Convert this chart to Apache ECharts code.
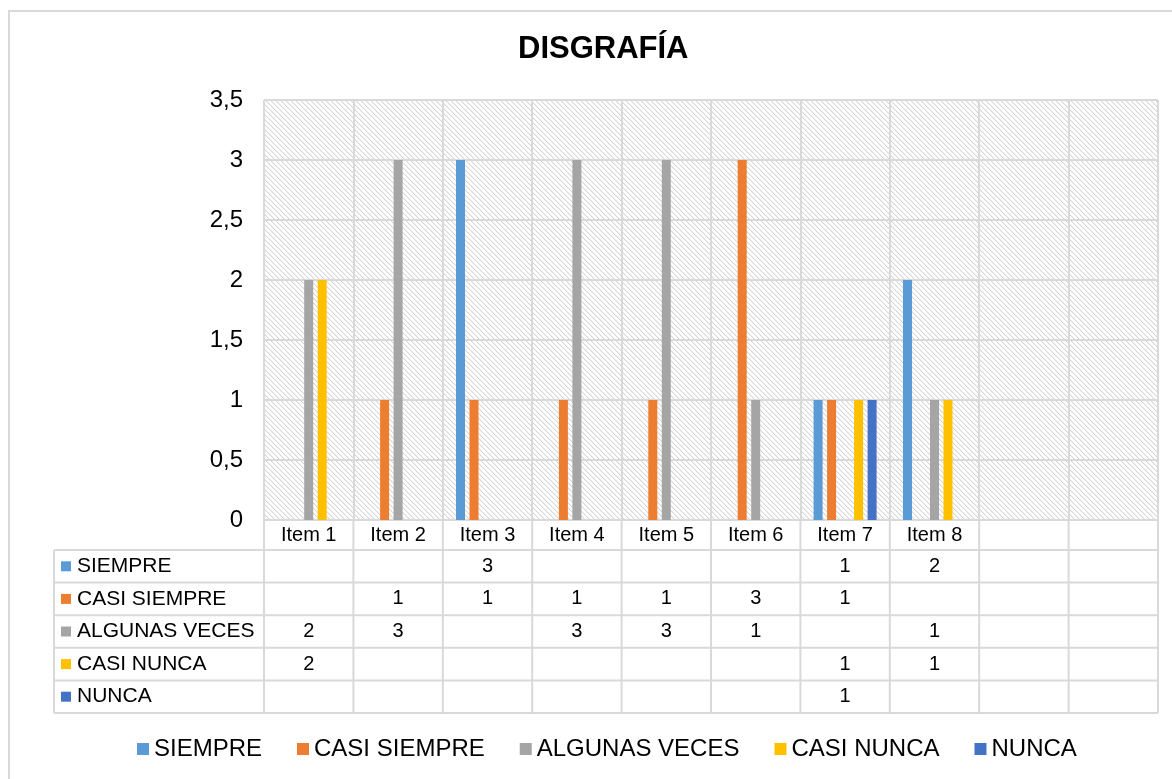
<!DOCTYPE html>
<html>
<head>
<meta charset="UTF-8">
<title>DISGRAFÍA</title>
<script src="https://cdn.jsdelivr.net/npm/echarts@6/dist/echarts.min.js"></script>
<style>
  html, body { margin: 0; padding: 0; background: #fff; }
  #chart { width: 1172px; height: 779px; }
</style>
</head>
<body>
<div id="chart"></div>
<script>
// datos
var categorias = ['Item 1', 'Item 2', 'Item 3', 'Item 4', 'Item 5', 'Item 6', 'Item 7', 'Item 8', '', ''];
var nombres = ['SIEMPRE', 'CASI SIEMPRE', 'ALGUNAS VECES', 'CASI NUNCA', 'NUNCA'];
var colores = ['#5B9BD5', '#ED7D31', '#A5A5A5', '#FFC000', '#4472C4'];
var siempre      = [null, null, 3, null, null, null, 1, 2, null, null];
var casiSiempre  = [null, 1, 1, 1, 1, 3, 1, null, null, null];
var algunasVeces = [2, 3, null, 3, 3, 1, null, 1, null, null];
var casiNunca    = [2, null, null, null, null, null, 1, 1, null, null];
var nunca        = [null, null, null, null, null, null, 1, null, null, null];
var valores = [siempre, casiSiempre, algunasVeces, casiNunca, nunca];

var GRID_LEFT = 264, GRID_RIGHT = 14, GRID_TOP = 100, GRID_BOTTOM = 259;
var TABLA_IZQ = 54, TABLA_TOP = 550, FILA_H = 32.6;
var LINEA = '#d9d9d9';
var FUENTE = 'Liberation Sans, Arial';

// trama diagonal del fondo
function trama() {
  var c = document.createElement('canvas');
  c.width = 5; c.height = 5;
  var ctx = c.getContext('2d');
  ctx.fillStyle = '#ffffff';
  ctx.fillRect(0, 0, 5, 5);
  for (var x = 0; x < 5; x++) {
    for (var y = 0; y < 5; y++) {
      var d = ((x - y) % 5 + 5) % 5;
      if (d === 0) { ctx.fillStyle = '#d6d6d6'; ctx.fillRect(x, y, 1, 1); }
      if (d === 1) { ctx.fillStyle = '#f0f0f0'; ctx.fillRect(x, y, 1, 1); }
    }
  }
  return c;
}

var chart = echarts.init(document.getElementById('chart'));

var series = nombres.map(function (n, i) {
  return {
    name: n,
    type: 'bar',
    data: valores[i],
    barWidth: 9,
    barGap: '50%',
    itemStyle: { color: colores[i] }
  };
});

var option = {
  animation: false,
  title: {
    text: 'DISGRAFÍA',
    left: 513,
    top: 29,
    textStyle: { fontFamily: FUENTE, fontSize: 31, fontWeight: 'bold', color: '#000' }
  },
  legend: {
    data: nombres,
    left: 132,
    top: 732,
    icon: 'rect',
    itemWidth: 12,
    itemHeight: 12,
    itemGap: 35,
    textStyle: { fontFamily: FUENTE, fontSize: 24, color: '#000' }
  },
  grid: {
    left: GRID_LEFT, right: GRID_RIGHT, top: GRID_TOP, bottom: GRID_BOTTOM,
    show: true,
    borderWidth: 0,
    backgroundColor: { image: trama(), repeat: 'repeat' }
  },
  xAxis: {
    type: 'category',
    data: categorias,
    axisTick: { show: false },
    axisLine: { show: true, lineStyle: { color: LINEA, width: 2 } },
    axisLabel: { interval: 0, margin: 5, fontFamily: FUENTE, fontSize: 20, color: '#000' },
    splitLine: { show: true, interval: 0, lineStyle: { color: LINEA, width: 2 } }
  },
  yAxis: {
    type: 'value',
    min: 0,
    max: 3.5,
    interval: 0.5,
    axisLine: { show: false },
    axisTick: { show: false },
    axisLabel: {
      margin: 21,
      fontFamily: FUENTE,
      fontSize: 24,
      color: '#000',
      formatter: function (v) { return String(v).replace('.', ','); }
    },
    splitLine: { lineStyle: { color: LINEA, width: 2 } }
  },
  series: series
};

chart.setOption(option);

// tabla de datos bajo el eje
var anchoGrid = 1172 - GRID_LEFT - GRID_RIGHT;
var paso = anchoGrid / categorias.length;
var yEje = 779 - GRID_BOTTOM;
var tablaFin = TABLA_TOP + FILA_H * nombres.length;
var graficos = [];

// marco exterior
graficos.push({
  type: 'rect', silent: true, z: 0,
  shape: { x: 9, y: 11, width: 1200, height: 800 },
  style: { fill: 'none', stroke: LINEA, lineWidth: 2 }
});

// lineas horizontales
for (var r = 0; r <= nombres.length; r++) {
  var yy = TABLA_TOP + r * FILA_H;
  graficos.push({
    type: 'line', silent: true,
    shape: { x1: TABLA_IZQ, y1: yy, x2: 1172 - GRID_RIGHT, y2: yy },
    style: { stroke: LINEA, lineWidth: 2 }
  });
}
// lineas verticales
graficos.push({
  type: 'line', silent: true,
  shape: { x1: TABLA_IZQ, y1: TABLA_TOP, x2: TABLA_IZQ, y2: tablaFin },
  style: { stroke: LINEA, lineWidth: 2 }
});
for (var c = 0; c <= categorias.length; c++) {
  var xx = GRID_LEFT + c * paso;
  graficos.push({
    type: 'line', silent: true,
    shape: { x1: xx, y1: yEje, x2: xx, y2: tablaFin },
    style: { stroke: LINEA, lineWidth: 2 }
  });
}
// etiquetas de fila y valores
nombres.forEach(function (n, i) {
  var yc = TABLA_TOP + i * FILA_H + FILA_H / 2;
  graficos.push({
    type: 'rect', silent: true,
    shape: { x: 61, y: yc - 5, width: 10, height: 10 },
    style: { fill: colores[i] }
  });
  graficos.push({
    type: 'text', silent: true,
    style: { x: 77, y: yc, text: n, fill: '#000', font: '21px "Liberation Sans", Arial', textVerticalAlign: 'middle', verticalAlign: 'middle' }
  });
  valores[i].forEach(function (v, k) {
    if (v === null) return;
    var px = chart.convertToPixel({ xAxisIndex: 0 }, k);
    graficos.push({
      type: 'text', silent: true,
      style: { x: px, y: yc, text: String(v), fill: '#000', font: '20px "Liberation Sans", Arial', align: 'center', textAlign: 'center', verticalAlign: 'middle', textVerticalAlign: 'middle' }
    });
  });
});

chart.setOption({ graphic: graficos });
</script>
</body>
</html>
